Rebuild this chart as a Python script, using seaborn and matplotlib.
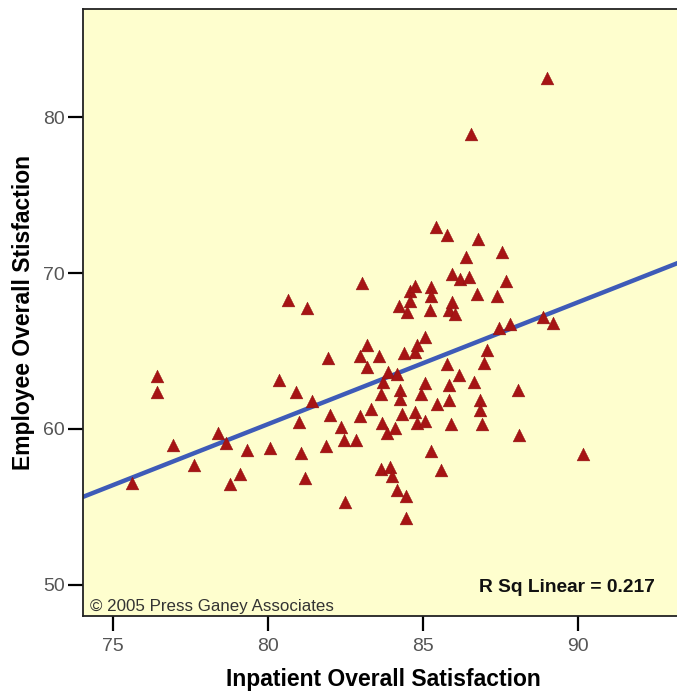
import matplotlib
matplotlib.use("Agg")
import matplotlib.pyplot as plt
import seaborn as sns
import pandas as pd

inpatient = [75.62, 76.43, 76.43, 76.92, 77.60, 78.39, 78.64, 78.77, 79.08, 79.31,
             80.05, 80.34, 80.63, 81.24, 80.89, 81.00, 81.07, 81.20, 81.40, 81.88,
             81.94, 81.98, 82.35, 82.44, 82.49, 82.82, 82.95, 82.95, 83.02, 83.18,
             83.18, 83.30, 83.57, 83.63, 83.65, 83.68, 83.70, 83.84, 83.86, 83.92,
             84.00, 84.08, 84.16, 84.16, 84.21, 84.24, 84.24, 84.32, 84.37, 84.43,
             84.43, 84.47, 84.56, 84.56, 84.75, 84.75, 84.75, 84.79, 84.79, 84.94,
             85.05, 85.07, 85.07, 85.24, 85.26, 85.26, 85.23, 85.40, 85.44, 85.57,
             85.76, 85.77, 85.82, 85.82, 85.82, 85.91, 85.93, 85.94, 86.04, 86.14,
             86.17, 86.38, 86.49, 86.54, 86.63, 86.73, 86.76, 86.83, 86.83, 86.89,
             86.96, 87.05, 87.37, 87.44, 87.54, 87.67, 87.79, 88.07, 88.10, 88.85,
             88.98, 89.17, 90.16]
employee = [56.54, 63.38, 62.40, 58.98, 57.71, 59.72, 59.08, 56.47, 57.12, 58.68,
            58.76, 63.11, 68.25, 67.73, 62.37, 60.43, 58.46, 56.83, 61.79, 58.93,
            64.57, 60.91, 60.11, 59.29, 55.29, 59.32, 64.71, 60.86, 69.38, 65.39,
            63.96, 61.31, 64.65, 57.44, 62.25, 60.37, 63.00, 59.72, 63.64, 57.59,
            57.01, 60.07, 63.54, 56.09, 67.86, 62.53, 61.95, 60.97, 64.84, 55.72,
            54.26, 67.52, 68.84, 68.18, 69.15, 64.93, 61.07, 65.39, 60.37, 62.21,
            62.92, 65.87, 60.54, 58.61, 69.08, 68.54, 67.64, 72.95, 61.57, 57.37,
            72.47, 64.17, 67.60, 62.85, 61.87, 60.33, 68.12, 69.96, 67.37, 63.49,
            69.64, 71.03, 69.72, 78.95, 63.04, 68.68, 72.16, 61.87, 61.23, 60.33,
            64.22, 65.08, 68.54, 66.45, 71.35, 69.49, 66.72, 62.51, 59.58, 67.17,
            82.49, 66.79, 58.40]
x_ticks = [75, 80, 85, 90]
y_ticks = [50, 60, 70, 80]
x_label = "Inpatient Overall Satisfaction"
y_label = "Employee Overall Stisfaction"
r2_text = "R Sq Linear = 0.217"
credit_text = "\u00a9 2005 Press Ganey Associates"

df = pd.DataFrame({"x": inpatient, "y": employee})

sns.set_theme(style="ticks")
plt.rcParams["font.family"] = ["Liberation Sans", "DejaVu Sans"]

fig = plt.figure(figsize=(6.77, 6.93), dpi=100)
ax = fig.add_axes([83 / 677, 1 - 616 / 693, 1 - 83 / 677 + 0.01, 607 / 693])
ax.set_facecolor("#FEFECE")
ax.set_xlim(74.03, 93.4)
ax.set_ylim(48.0, 86.94)

sns.regplot(data=df, x="x", y="y", scatter=False, ci=None, truncate=False,
            line_kws={"color": "#3E5BB8", "linewidth": 3.2}, ax=ax)
sns.scatterplot(data=df, x="x", y="y", marker="^", s=85, color="#A61414",
                edgecolor="#8E1010", linewidth=0.3, ax=ax, zorder=3)

ax.set_xticks(x_ticks)
ax.set_yticks(y_ticks)
ax.tick_params(axis="both", direction="out", length=11, width=1.6, color="black",
               labelsize=14, labelcolor="#555555")
ax.tick_params(axis="x", pad=5)
ax.tick_params(axis="y", pad=2)
for s in ["left", "top", "bottom"]:
    ax.spines[s].set_color("#222222")
    ax.spines[s].set_linewidth(1.3)
ax.spines["right"].set_visible(False)

ax.set_xlabel(x_label, fontsize=16.5, fontweight="bold", color="black", labelpad=9)
ax.set_ylabel(y_label, fontsize=16.5, fontweight="bold", color="black", labelpad=6)

ident = matplotlib.transforms.IdentityTransform()
ax.text(655, 693 - 588, r2_text, transform=ident, fontsize=13.8, fontweight="bold",
        ha="right", va="center", color="#111111")
ax.text(90, 693 - 606, credit_text, transform=ident, fontsize=12.2, ha="left",
        va="center", color="#333333")

fig.savefig("out.png", dpi=100)
